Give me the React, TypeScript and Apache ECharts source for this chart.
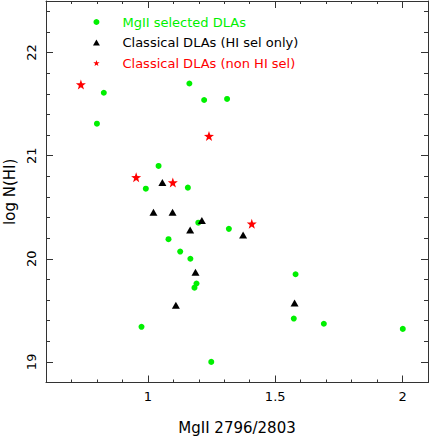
import React, { useEffect, useRef } from "react";
import * as echarts from "echarts";

const seriesNames = ["MgII selected DLAs", "Classical DLAs (HI sel only)", "Classical DLAs (non HI sel)"];

const greenX = [0.827, 0.8, 1.163, 1.221, 1.311, 1.042, 0.992, 1.157, 1.198, 1.081, 1.127, 1.167, 1.191, 1.183, 0.975, 1.249, 1.318, 1.58, 1.573, 1.691, 2.001];
const greenY = [21.61, 21.31, 21.7, 21.54, 21.55, 20.9, 20.68, 20.69, 20.35, 20.19, 20.07, 20.0, 19.76, 19.72, 19.34, 19.0, 20.29, 19.85, 19.42, 19.37, 19.32];

const blackX = [1.057, 1.022, 1.097, 1.212, 1.166, 1.187, 1.11, 1.374, 1.576];
const blackY = [20.74, 20.45, 20.45, 20.37, 20.28, 19.87, 19.55, 20.23, 19.57];

const redX = [0.737, 1.24, 0.954, 1.098, 1.408];
const redY = [21.69, 21.19, 20.79, 20.74, 20.34];

const xMajorTicks = [1, 1.5, 2];
const yMajorTicks = [19, 20, 21, 22];

const X_MIN = 0.6, X_MAX = 2.1, Y_MIN = 18.8, Y_MAX = 22.5;

const FONT = "DejaVu Sans";
const AXIS_COLOR = "#333";
const GREEN = "#00f000";

const TRI = "path://M5,0L10,8.7L0,8.7Z";
const STAR =
  "path://M0,-10L2.35,-3.24L9.51,-3.09L3.8,1.24L5.88,8.09L0,4L-5.88,8.09L-3.8,1.24L-9.51,-3.09L-2.35,-3.24Z";

function pairs(xs: number[], ys: number[]) {
  return xs.map((x, i) => [x, ys[i]]);
}

export default function App() {
  const ref = useRef<HTMLDivElement>(null);
  useEffect(() => {
    if (!ref.current) return;
    const chart = echarts.init(ref.current, null, { renderer: "svg" });
    const lineStyle = { color: AXIS_COLOR, width: 1 };
    const minorX = (pos: string) => ({
      type: "value",
      position: pos,
      min: X_MIN,
      max: X_MAX,
      interval: 0.1,
      axisLine: { show: true, onZero: false, lineStyle },
      axisTick: { show: true, inside: true, length: 3, lineStyle },
      axisLabel: { show: false },
      splitLine: { show: false },
    });
    const minorY = (pos: string) => ({
      type: "value",
      position: pos,
      min: Y_MIN,
      max: Y_MAX,
      interval: 0.2,
      axisLine: { show: true, onZero: false, lineStyle },
      axisTick: { show: true, inside: true, length: 4, lineStyle },
      axisLabel: { show: false },
      splitLine: { show: false },
    });
    chart.setOption({
      animation: false,
      backgroundColor: "#fff",
      grid: { left: 46, right: 2, top: 1, bottom: 53.5, containLabel: false, outerBoundsMode: "none" },
      legend: {
        orient: "vertical",
        left: 93,
        top: 15,
        padding: 0,
        itemWidth: 42,
        itemHeight: 6,
        itemGap: 6.5,
        selectedMode: false,
        textStyle: { fontFamily: FONT, fontSize: 13, lineHeight: 14 },
        data: [
          { name: seriesNames[0], textStyle: { color: GREEN } },
          { name: seriesNames[1], icon: TRI, textStyle: { color: "#000" } },
          { name: seriesNames[2], icon: STAR, textStyle: { color: "#ff0000" } },
        ],
      },
      xAxis: [
        minorX("bottom"),
        {
          type: "value",
          position: "bottom",
          min: X_MIN,
          max: X_MAX,
          axisLine: { show: false, onZero: false },
          axisTick: { show: true, inside: true, length: 7, lineStyle, customValues: xMajorTicks },
          axisLabel: {
            show: true,
            customValues: xMajorTicks,
            margin: 7,
            color: "#000",
            fontFamily: FONT,
            fontSize: 13,
            formatter: (v: number) => String(v),
          },
          splitLine: { show: false },
          name: "MgII 2796/2803",
          nameLocation: "middle",
          nameGap: 38,
          nameTextStyle: { color: "#000", fontFamily: FONT, fontSize: 15 },
        },
        minorX("top"),
        {
          type: "value",
          position: "top",
          min: X_MIN,
          max: X_MAX,
          axisLine: { show: false, onZero: false },
          axisTick: { show: true, inside: true, length: 7, lineStyle, customValues: xMajorTicks },
          axisLabel: { show: false },
          splitLine: { show: false },
        },
      ],
      yAxis: [
        minorY("left"),
        {
          type: "value",
          position: "left",
          min: Y_MIN,
          max: Y_MAX,
          axisLine: { show: false, onZero: false },
          axisTick: { show: true, inside: true, length: 7, lineStyle, customValues: yMajorTicks },
          axisLabel: {
            show: true,
            customValues: yMajorTicks,
            rotate: 90,
            margin: 8,
            color: "#000",
            fontFamily: FONT,
            fontSize: 13,
            formatter: (v: number) => String(v),
          },
          splitLine: { show: false },
          name: "log N(HI)",
          nameLocation: "middle",
          nameGap: 28,
          nameRotate: 90,
          nameTextStyle: { color: "#000", fontFamily: FONT, fontSize: 15 },
        },
        minorY("right"),
        {
          type: "value",
          position: "right",
          min: Y_MIN,
          max: Y_MAX,
          axisLine: { show: false, onZero: false },
          axisTick: { show: true, inside: true, length: 7, lineStyle, customValues: yMajorTicks },
          axisLabel: { show: false },
          splitLine: { show: false },
        },
      ],
      series: [
        {
          name: seriesNames[0],
          type: "scatter",
          xAxisIndex: 0,
          yAxisIndex: 0,
          symbol: "circle",
          symbolSize: 6,
          itemStyle: { color: GREEN, opacity: 1 },
          data: pairs(greenX, greenY),
        },
        {
          name: seriesNames[1],
          type: "scatter",
          xAxisIndex: 0,
          yAxisIndex: 0,
          symbol: TRI,
          symbolSize: [8, 7],
          itemStyle: { color: "#000", opacity: 1 },
          data: pairs(blackX, blackY),
        },
        {
          name: seriesNames[2],
          type: "scatter",
          xAxisIndex: 0,
          yAxisIndex: 0,
          symbol: STAR,
          symbolSize: 10,
          itemStyle: { color: "#ff0000", opacity: 1 },
          data: pairs(redX, redY),
        },
      ],
    });
    return () => chart.dispose();
  }, []);
  return (
    <div
      ref={ref}
      style={{ position: "absolute", left: 0, top: 0, width: 430, height: 436 }}
    />
  );
}
